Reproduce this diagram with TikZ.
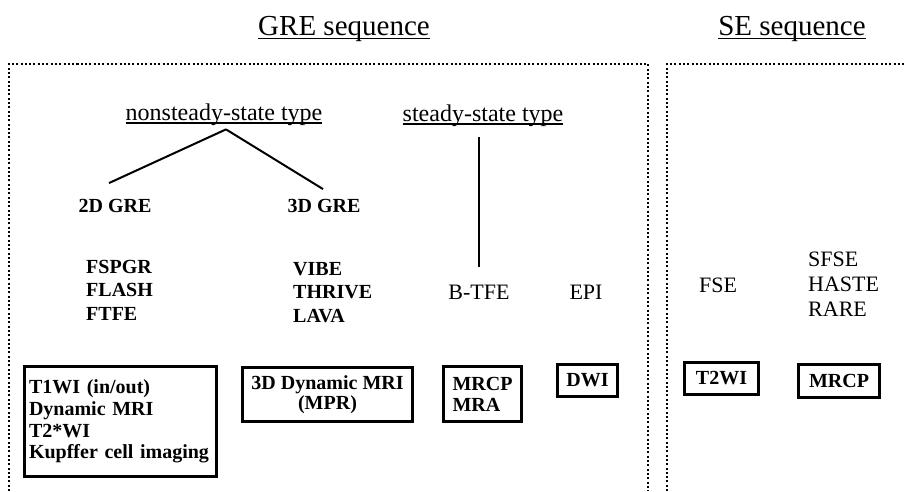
\documentclass[tikz,border=0pt]{standalone}
\usepackage{fontspec}
\setmainfont{Liberation Serif}

% underline at a fixed depth below the baseline
\newcommand{\ultext}[1]{\setbox0=\hbox{#1}\rlap{\rule[-0.15em]{\wd0}{0.06em}}\box0}

\tikzset{
  headtext/.style={font=\fontsize{29}{34}\selectfont, inner sep=0pt, anchor=base},
  kindtext/.style={font=\fontsize{24}{28}\selectfont, inner sep=0pt, anchor=base},
  gretext/.style={font=\bfseries\fontsize{20}{23.5}\selectfont, inner sep=0pt, anchor=base},
  seqname/.style={font=\bfseries\fontsize{20}{23.5}\selectfont, inner sep=0pt, align=left, anchor=north west},
  plainseq/.style={font=\fontsize{22}{25}\selectfont, inner sep=0pt, align=left, anchor=north west},
  usebox/.style={draw, line width=3pt, font=\bfseries\fontsize{20}{21.7}\selectfont, inner sep=0pt},
  seqframe/.style={line width=2pt, dash pattern=on 2pt off 2.3pt},
  branch/.style={line width=2pt}
}

\begin{document}
\begin{tikzpicture}[x=1pt,y=-1pt]
  \useasboundingbox (0,0) rectangle (904,491);

  % dotted frames
  \draw[seqframe] (9,491) -- (9,64) -- (648,64) -- (648,491);
  \draw[seqframe] (667,491) -- (667,64) -- (904,64);

  \node[headtext] (gretitle) at (344,35) {\ultext{GRE sequence}};
  \node[headtext] (setitle) at (792,35) {\ultext{SE sequence}};

  \node[kindtext] (nst) at (224,120) {\ultext{nonsteady-state type}};
  \node[kindtext] (sst) at (483,121) {\ultext{steady-state type}};

  \node[gretext] (g2d) at (115,212) {2D GRE};
  \node[gretext] (g3d) at (324,212) {3D GRE};

  \node[seqname] (fast2d) at (86,260) {FSPGR\\FLASH\\FTFE};
  \node[seqname] (fast3d) at (293,262) {VIBE\\THRIVE\\LAVA};
  \node[plainseq, anchor=north] (btfe) at (479,285) {B-TFE};
  \node[plainseq, anchor=north] (epi) at (586,285) {EPI};
  \node[plainseq, anchor=north] (fse) at (718,278) {FSE};
  \node[plainseq] (ssfse) at (808,252) {SFSE\\HASTE\\RARE};

  \draw[branch] ([xshift=2pt,yshift=-4pt]nst.south) -- ([xshift=-6pt,yshift=15.5pt]g2d.north);
  \draw[branch] ([xshift=2pt,yshift=-4pt]nst.south) -- ([xshift=-1pt,yshift=9.5pt]g3d.north);
  \draw[branch] ([xshift=-4pt,yshift=-11pt]sst.south) -- ([yshift=18pt]btfe.north);

  % clinical use
  \node[usebox, minimum width=192pt, minimum height=110pt, text width=183pt, align=left] (use2d) at (120.5,421.5)
    {T1WI (in/out)\\Dynamic MRI\\T2*WI\\Kupffer cell imaging};
  \node[usebox, minimum width=170pt, minimum height=54pt, align=center, font=\bfseries\fontsize{20}{20}\selectfont] (use3d) at (327.5,394.5)
    {3D Dynamic MRI\\(MPR)};
  \node[usebox, minimum width=78pt, minimum height=55pt, text width=60pt, align=left, font=\bfseries\fontsize{20}{21}\selectfont] (usebtfe) at (482.5,394)
    {MRCP\\MRA};
  \node[usebox, minimum width=60pt, minimum height=32pt] (useepi) at (587.5,380.5) {DWI};
  \node[usebox, minimum width=74pt, minimum height=32pt] (usefse) at (721.5,378.5) {T2WI};
  \node[usebox, minimum width=81pt, minimum height=33pt] (usessfse) at (839,381) {MRCP};
\end{tikzpicture}
\end{document}
